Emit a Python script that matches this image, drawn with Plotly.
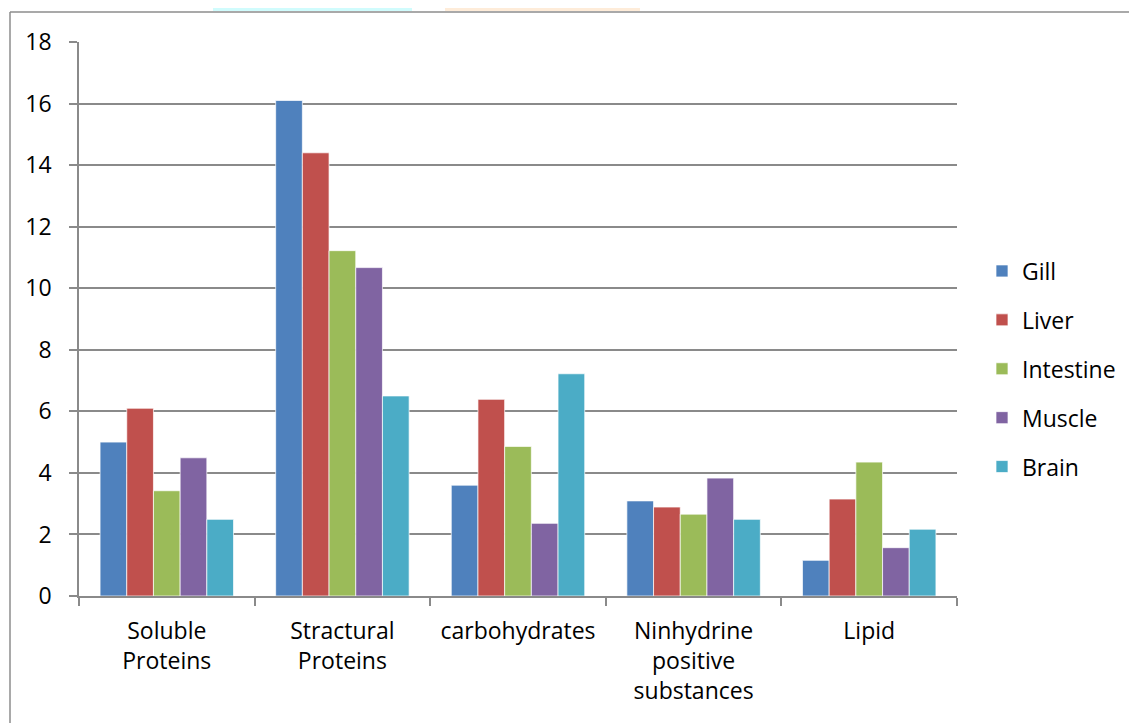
import plotly.graph_objects as go

categories = ["Soluble<br>Proteins", "Stractural<br>Proteins", "carbohydrates",
              "Ninhydrine<br>positive<br>substances", "Lipid"]
gill = [5.0, 16.1, 3.6, 3.09, 1.16]
liver = [6.1, 14.4, 6.39, 2.89, 3.15]
intestine = [3.42, 11.22, 4.86, 2.66, 4.35]
muscle = [4.49, 10.67, 2.36, 3.83, 1.57]
brain = [2.49, 6.5, 7.22, 2.49, 2.17]
series_names = ["Gill", "Liver", "Intestine", "Muscle", "Brain"]
series_values = [gill, liver, intestine, muscle, brain]
colors = ["#4F81BD", "#C0504D", "#9BBB59", "#8064A2", "#4BACC6"]
y_ticks = [0, 2, 4, 6, 8, 10, 12, 14, 16, 18]

# page body has an 8px margin; work in page pixels and shift into figure pixels
OFF = 8
W, H = 1137 - OFF, 723 - OFF
L, R, T, B = 79, 957, 42, 596
PW, PH = R - L, B - T


def px(x):
    return (x - L) / PW


def py(y):
    return (B - y) / PH


fig = go.Figure()
for name, vals, col in zip(series_names, series_values, colors):
    fig.add_trace(go.Bar(
        x=categories, y=vals, name=name, legendgroup=name,
        marker=dict(color=col, line=dict(color="rgba(255,255,255,0.7)", width=1)),
    ))

GRID = "#8a8a8a"
FONT = "Open Sans"
FS = 23

shapes = [
    # outer chart frame
    dict(type="line", xref="paper", yref="paper", x0=px(10), x1=px(1200), y0=py(12), y1=py(12),
         line=dict(color="#8c8c8c", width=1.5)),
    dict(type="line", xref="paper", yref="paper", x0=px(10), x1=px(10), y0=py(12), y1=py(760),
         line=dict(color="#8c8c8c", width=1.5)),
    # watermark fragments at top
    dict(type="path", xref="paper", yref="paper", layer="below",
         path=f"M {px(213)} {py(11)} L {px(213)} {py(6)} L {px(220)} {py(6)} L {px(220)} {py(3)} "
              f"L {px(232)} {py(3)} L {px(232)} {py(-8)} L {px(412)} {py(-8)} L {px(412)} {py(11)} Z",
         fillcolor="#D0FCFD", line=dict(width=0)),
    dict(type="path", xref="paper", yref="paper", layer="below",
         path=f"M {px(445)} {py(11)} L {px(445)} {py(-8)} L {px(625)} {py(-8)} L {px(625)} {py(3)} "
              f"L {px(632)} {py(3)} L {px(632)} {py(6)} L {px(640)} {py(6)} L {px(640)} {py(11)} Z",
         fillcolor="#FEECD9", line=dict(width=0)),
]

fig.update_layout(
    width=W, height=H,
    margin=dict(l=L - OFF, r=(W + OFF) - R, t=T - OFF, b=(H + OFF) - B, pad=0),
    paper_bgcolor="white", plot_bgcolor="white",
    barmode="group", bargap=0.24, bargroupgap=0,
    font=dict(family=FONT, size=FS, color="black"),
    showlegend=True,
    legend=dict(x=px(982), xanchor="left", y=py(369), yanchor="middle",
                font=dict(family=FONT, size=FS, color="black"),
                tracegroupgap=16, bgcolor="rgba(0,0,0,0)"),
    shapes=shapes,
    xaxis=dict(
        showline=True, linecolor=GRID, linewidth=1.5,
        ticks="outside", ticklen=8, tickcolor=GRID, tickwidth=1.5,
        tickson="boundaries", showgrid=False,
        tickfont=dict(family=FONT, size=FS, color="black"),
        ticklabelstandoff=14,
    ),
    yaxis=dict(
        range=[0, 18], tickvals=y_ticks,
        showline=True, linecolor=GRID, linewidth=1.5,
        ticks="outside", ticklen=8, tickcolor=GRID, tickwidth=1.5,
        showgrid=True, gridcolor=GRID, gridwidth=1.5, zeroline=False,
        tickfont=dict(family=FONT, size=FS, color="black"),
        ticklabelstandoff=13,
    ),
)

fig.write_html("out.html")
